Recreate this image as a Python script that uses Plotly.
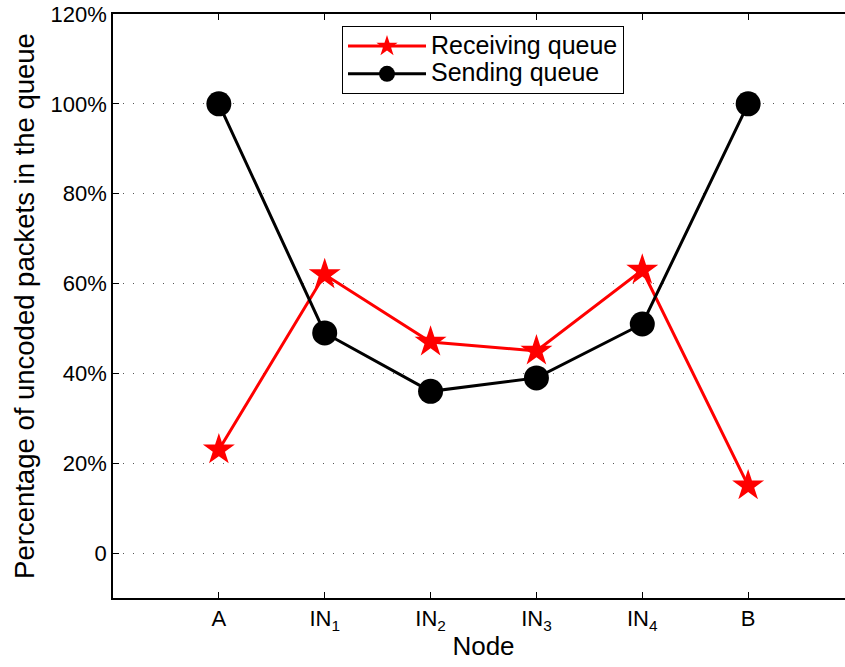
import plotly.graph_objects as go

nodes = ["A", "IN<sub>1</sub>", "IN<sub>2</sub>", "IN<sub>3</sub>", "IN<sub>4</sub>", "B"]
node_pos = [1, 2, 3, 4, 5, 6]
receiving = [23, 62, 47, 45, 63, 15]
sending = [100, 49, 36, 39, 51, 100]
y_ticks = [0, 20, 40, 60, 80, 100, 120]
y_tick_labels = ["0", "20%", "40%", "60%", "80%", "100%", "120%"]
series_names = ["Receiving queue", "Sending queue"]

FONT = "Liberation Sans, Arial, sans-serif"


def legend_label(txt):
    return "<span style='font-size:25px'>" + txt + "</span>"


fig = go.Figure()
fig.add_trace(go.Scatter(
    x=node_pos, y=receiving, mode="lines+markers", name=legend_label(series_names[0]),
    line=dict(color="#ff0000", width=3),
    marker=dict(symbol="star", size=24, color="#ff0000"),
))
fig.add_trace(go.Scatter(
    x=node_pos, y=sending, mode="lines+markers", name=legend_label(series_names[1]),
    line=dict(color="#000000", width=3),
    marker=dict(symbol="circle", size=25, color="#000000"),
))

fig.update_layout(
    width=854, height=667,
    margin=dict(l=113, r=0, t=14, b=69, autoexpand=False),
    paper_bgcolor="white", plot_bgcolor="white",
    font=dict(family=FONT, color="black", size=22),
    showlegend=True,
    legend=dict(
        x=(342 - 113) / 741, y=0.979, xanchor="left", yanchor="top",
        bgcolor="white", bordercolor="black", borderwidth=1,
        font=dict(size=19, family=FONT),
        itemwidth=78, tracegroupgap=0,
    ),
)
fig.update_xaxes(
    range=[0, 7], tickvals=node_pos, ticktext=nodes,
    showline=True, linecolor="black", linewidth=1.5, mirror="ticks",
    ticks="inside", ticklen=6, tickcolor="black", tickwidth=1,
    showgrid=False, zeroline=False,
    tickfont=dict(size=22),
    title=dict(text="Node", font=dict(size=26), standoff=4),
)
fig.update_yaxes(
    range=[-10, 120], tickvals=y_ticks, ticktext=y_tick_labels,
    showline=True, linecolor="black", linewidth=1.5, mirror=False,
    ticks="inside", ticklen=6, tickcolor="black", tickwidth=1,
    showgrid=True, gridcolor="#555555", gridwidth=1, griddash="1px,9px",
    zeroline=False,
    tickfont=dict(size=22),
    title=dict(text="Percentage of uncoded packets in the queue", font=dict(size=27.5), standoff=8),
)

fig.write_html(
    "out.html",
    config={"displayModeBar": False},
    post_script=(
        "document.documentElement.style.overflow='hidden';"
        "document.documentElement.style.margin='0';"
        "document.body.style.margin='0';"
        "document.body.style.overflow='hidden';"
    ),
)
